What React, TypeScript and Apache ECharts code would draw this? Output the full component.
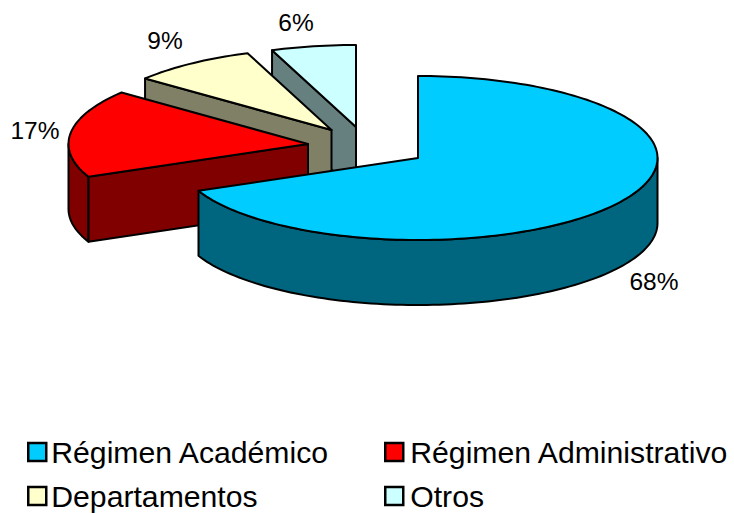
import React, { useEffect, useRef } from "react";
import * as echarts from "echarts";

const categories = ["Régimen Académico", "Régimen Administrativo", "Departamentos", "Otros"];
const shares = [68.45, 17.35, 8.5, 5.7];
const topColors = ["#00CCFF", "#FF0000", "#FFFFCC", "#CCFFFF"];
const wallColors = ["#006680", "#800000", "#808066", "#668080"];

// layout of the exploded 3D pie
const apexes = [[418, 158], [308, 144], [331.5, 130], [356, 127]];
const labelAnchors = [[654, 281], [35, 130], [165, 40], [296, 22]];
const legendAnchors = [[27, 437], [384, 437], [27, 481], [384, 481]];
const legendTextGaps = [0, 2, 0, 2];
const RX = 239.5;
const RY = 82;
const DEPTH = 65;
const FONT = '"Liberation Sans", Arial, sans-serif';
const total = shares.reduce((a, b) => a + b, 0);

function rim(cx: number, cy: number, a0: number, a1: number, dy = 0) {
  const pts: number[][] = [];
  const n = Math.max(2, Math.ceil((a1 - a0) / 1.5));
  for (let i = 0; i <= n; i++) {
    const t = ((a0 + ((a1 - a0) * i) / n) * Math.PI) / 180;
    pts.push([cx + RX * Math.sin(t), cy - RY * Math.cos(t) + dy]);
  }
  return pts;
}

function renderSlice(idx: number) {
  return (_params: any, api: any) => {
    const value = api.value(0) as number;
    const before = shares.slice(0, idx).reduce((a, b) => a + b, 0);
    const a0 = (before / total) * 360;
    const a1 = a0 + (value / total) * 360;
    const [cx, cy] = apexes[idx];
    const stroke = { stroke: "#000", lineWidth: 2, lineJoin: "round" };
    const children: any[] = [];
    const wall = wallColors[idx];
    const w0 = Math.max(a0, 90);
    const w1 = Math.min(a1, 270);
    if (w1 > w0) {
      const top = rim(cx, cy, w0, w1);
      const bottom = rim(cx, cy, w0, w1, DEPTH).reverse();
      children.push({ type: "polygon", shape: { points: [...top, ...bottom] }, style: { fill: wall, ...stroke } });
    }
    const face = (a: number) => {
      const p = rim(cx, cy, a, a + 0.001)[0];
      children.push({
        type: "polygon",
        shape: { points: [[cx, cy], p, [p[0], p[1] + DEPTH], [cx, cy + DEPTH]] },
        style: { fill: wall, ...stroke },
      });
    };
    if (a0 > 180 && a0 < 360) face(a0);
    if (a1 > 0 && a1 < 180) face(a1);
    children.push({
      type: "polygon",
      shape: { points: [[cx, cy], ...rim(cx, cy, a0, a1)] },
      style: { fill: topColors[idx], ...stroke },
    });
    children.push({
      type: "text",
      style: {
        text: `${Math.round(value)}%`,
        x: labelAnchors[idx][0],
        y: labelAnchors[idx][1],
        align: "center",
        verticalAlign: "middle",
        fontFamily: FONT,
        fontSize: 24.5,
        fill: "#000",
      },
    });
    return { type: "group", children };
  };
}

export default function App() {
  const ref = useRef<HTMLDivElement>(null);
  useEffect(() => {
    const chart = echarts.init(ref.current!, undefined, { renderer: "svg" });
    const order = [3, 2, 1, 0];
    chart.setOption({
      animation: false,
      backgroundColor: "#fff",
      legend: categories.map((name, i) => ({
        data: [name],
        left: legendAnchors[i][0],
        top: legendAnchors[i][1],
        padding: 0,
        itemWidth: 18,
        itemHeight: 18,
        itemGap: 0,
        selectedMode: false,
        icon: "rect",
        itemStyle: { borderColor: "#000", borderWidth: 2.5 },
        textStyle: { fontFamily: FONT, fontSize: 30.2, color: "#000", padding: [0, 0, 0, legendTextGaps[i]] },
      })),
      series: order.map((i) => ({
        type: "custom",
        name: categories[i],
        coordinateSystem: "none",
        silent: true,
        z: 4 - i,
        itemStyle: { color: topColors[i] },
        data: [[shares[i]]],
        renderItem: renderSlice(i),
      })),
    });
    return () => chart.dispose();
  }, []);
  return <div ref={ref} style={{ position: "fixed", left: 0, top: 0, width: 734, height: 513 }} />;
}
